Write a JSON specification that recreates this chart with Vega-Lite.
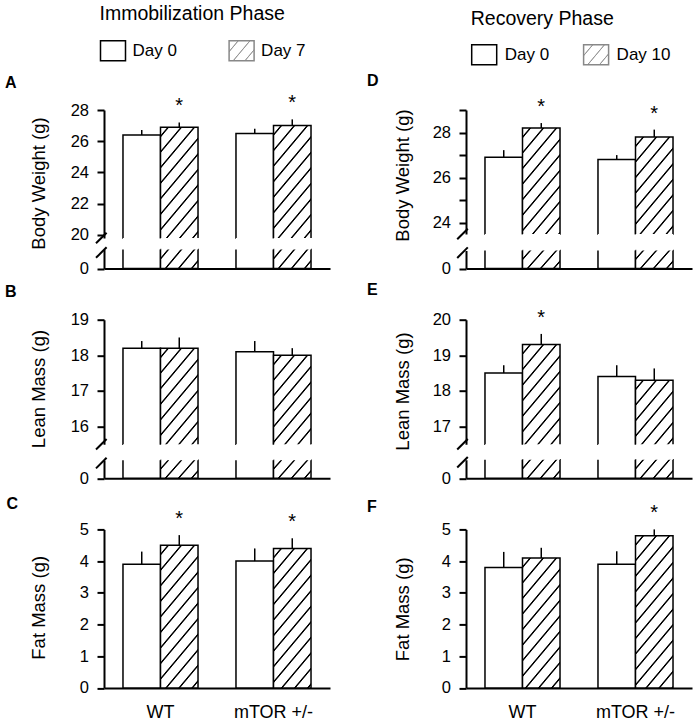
{
  "$schema": "https://vega.github.io/schema/vega-lite/v6.json",
  "padding": {"left": 5, "top": 4, "right": 5, "bottom": 6},
  "background": "white",
  "params": [
    {"name": "hatch", "value": [
      {"offset": 0, "color": "#fff"},
      {"offset": 0.0245, "color": "#fff"}, {"offset": 0.0282, "color": "#000"}, {"offset": 0.0318, "color": "#000"}, {"offset": 0.0355, "color": "#fff"},
      {"offset": 0.0745, "color": "#fff"}, {"offset": 0.0782, "color": "#000"}, {"offset": 0.0818, "color": "#000"}, {"offset": 0.0855, "color": "#fff"},
      {"offset": 0.1245, "color": "#fff"}, {"offset": 0.1282, "color": "#000"}, {"offset": 0.1318, "color": "#000"}, {"offset": 0.1355, "color": "#fff"},
      {"offset": 0.1745, "color": "#fff"}, {"offset": 0.1782, "color": "#000"}, {"offset": 0.1818, "color": "#000"}, {"offset": 0.1855, "color": "#fff"},
      {"offset": 0.2245, "color": "#fff"}, {"offset": 0.2282, "color": "#000"}, {"offset": 0.2318, "color": "#000"}, {"offset": 0.2355, "color": "#fff"},
      {"offset": 0.2745, "color": "#fff"}, {"offset": 0.2782, "color": "#000"}, {"offset": 0.2818, "color": "#000"}, {"offset": 0.2855, "color": "#fff"},
      {"offset": 0.3245, "color": "#fff"}, {"offset": 0.3282, "color": "#000"}, {"offset": 0.3318, "color": "#000"}, {"offset": 0.3355, "color": "#fff"},
      {"offset": 0.3745, "color": "#fff"}, {"offset": 0.3782, "color": "#000"}, {"offset": 0.3818, "color": "#000"}, {"offset": 0.3855, "color": "#fff"},
      {"offset": 0.4245, "color": "#fff"}, {"offset": 0.4282, "color": "#000"}, {"offset": 0.4318, "color": "#000"}, {"offset": 0.4355, "color": "#fff"},
      {"offset": 0.4745, "color": "#fff"}, {"offset": 0.4782, "color": "#000"}, {"offset": 0.4818, "color": "#000"}, {"offset": 0.4855, "color": "#fff"},
      {"offset": 0.5245, "color": "#fff"}, {"offset": 0.5282, "color": "#000"}, {"offset": 0.5318, "color": "#000"}, {"offset": 0.5355, "color": "#fff"},
      {"offset": 0.5745, "color": "#fff"}, {"offset": 0.5782, "color": "#000"}, {"offset": 0.5818, "color": "#000"}, {"offset": 0.5855, "color": "#fff"},
      {"offset": 0.6245, "color": "#fff"}, {"offset": 0.6282, "color": "#000"}, {"offset": 0.6318, "color": "#000"}, {"offset": 0.6355, "color": "#fff"},
      {"offset": 0.6745, "color": "#fff"}, {"offset": 0.6782, "color": "#000"}, {"offset": 0.6818, "color": "#000"}, {"offset": 0.6855, "color": "#fff"},
      {"offset": 0.7245, "color": "#fff"}, {"offset": 0.7282, "color": "#000"}, {"offset": 0.7318, "color": "#000"}, {"offset": 0.7355, "color": "#fff"},
      {"offset": 1, "color": "#fff"}
    ]},
    {"name": "hatchL", "value": [
      {"offset": 0, "color": "#fff"},
      {"offset": 0.031, "color": "#fff"}, {"offset": 0.034, "color": "#999"}, {"offset": 0.036, "color": "#999"}, {"offset": 0.039, "color": "#fff"},
      {"offset": 0.076, "color": "#fff"}, {"offset": 0.079, "color": "#999"}, {"offset": 0.081, "color": "#999"}, {"offset": 0.084, "color": "#fff"},
      {"offset": 0.121, "color": "#fff"}, {"offset": 0.124, "color": "#999"}, {"offset": 0.126, "color": "#999"}, {"offset": 0.129, "color": "#fff"},
      {"offset": 1, "color": "#fff"}
    ]}
  ],
  "config": {
    "view": {"stroke": null},
    "font": "Liberation Sans",
    "axis": {
      "domainColor": "#000", "domainWidth": 2, "tickColor": "#000", "tickWidth": 2, "tickSize": 7,
      "labelColor": "#000", "labelFontSize": 16.5, "labelPadding": 8.5, "labelFont": "Liberation Sans",
      "titleColor": "#000", "titleFontSize": 18.5, "titleFontWeight": "normal", "titleFont": "Liberation Sans", "grid": false
    },
    "title": {"color": "#000", "font": "Liberation Sans"},
    "legend": {"labelColor": "#000", "labelFontSize": 17, "labelFont": "Liberation Sans", "titleColor": "#000", "titleFont": "Liberation Sans", "titleFontSize": 19.5, "titleFontWeight": "normal", "titleLimit": 400}
  },
  "datasets": {
    "bw_imm": [
      {"group": "WT", "day": "Day 0", "value": 26.4, "upper": 26.72, "sig": ""},
      {"group": "WT", "day": "Day 7", "value": 26.9, "upper": 27.2, "sig": "*"},
      {"group": "mTOR +/-", "day": "Day 0", "value": 26.5, "upper": 26.8, "sig": ""},
      {"group": "mTOR +/-", "day": "Day 7", "value": 27.0, "upper": 27.4, "sig": "*"}
    ],
    "lean_imm": [
      {"group": "WT", "day": "Day 0", "value": 18.2, "upper": 18.4, "sig": ""},
      {"group": "WT", "day": "Day 7", "value": 18.2, "upper": 18.5, "sig": ""},
      {"group": "mTOR +/-", "day": "Day 0", "value": 18.1, "upper": 18.4, "sig": ""},
      {"group": "mTOR +/-", "day": "Day 7", "value": 18.0, "upper": 18.2, "sig": ""}
    ],
    "fat_imm": [
      {"group": "WT", "day": "Day 0", "value": 3.9, "upper": 4.3, "sig": ""},
      {"group": "WT", "day": "Day 7", "value": 4.5, "upper": 4.82, "sig": "*"},
      {"group": "mTOR +/-", "day": "Day 0", "value": 4.0, "upper": 4.4, "sig": ""},
      {"group": "mTOR +/-", "day": "Day 7", "value": 4.4, "upper": 4.72, "sig": "*"}
    ],
    "bw_rec": [
      {"group": "WT", "day": "Day 0", "value": 26.9, "upper": 27.22, "sig": ""},
      {"group": "WT", "day": "Day 10", "value": 28.2, "upper": 28.42, "sig": "*"},
      {"group": "mTOR +/-", "day": "Day 0", "value": 26.8, "upper": 27.0, "sig": ""},
      {"group": "mTOR +/-", "day": "Day 10", "value": 27.8, "upper": 28.13, "sig": "*"}
    ],
    "lean_rec": [
      {"group": "WT", "day": "Day 0", "value": 18.5, "upper": 18.72, "sig": ""},
      {"group": "WT", "day": "Day 10", "value": 19.3, "upper": 19.6, "sig": "*"},
      {"group": "mTOR +/-", "day": "Day 0", "value": 18.4, "upper": 18.72, "sig": ""},
      {"group": "mTOR +/-", "day": "Day 10", "value": 18.3, "upper": 18.63, "sig": ""}
    ],
    "fat_rec": [
      {"group": "WT", "day": "Day 0", "value": 3.8, "upper": 4.29, "sig": ""},
      {"group": "WT", "day": "Day 10", "value": 4.1, "upper": 4.42, "sig": ""},
      {"group": "mTOR +/-", "day": "Day 0", "value": 3.9, "upper": 4.31, "sig": ""},
      {"group": "mTOR +/-", "day": "Day 10", "value": 4.8, "upper": 5.0, "sig": "*"}
    ]
  },
  "columns": 2,
  "spacing": {"row": 50.7, "column": 136},
  "bounds": "flush",
  "resolve": {"scale": {"xOffset": "independent", "stroke": "independent", "fill": "independent"}, "legend": {"stroke": "independent", "fill": "independent"}},
  "concat": [
    {
      "width": 226, "height": 158.5,
      "data": {"name": "bw_imm"},
      "title": {"text": "A", "anchor": "start", "frame": "group", "fontSize": 16, "fontWeight": "bold", "baseline": "alphabetic", "offset": 0, "dx": -99, "dy": 99.4},
      "encoding": {
        "x": {"field": "group", "type": "nominal", "scale": {"domain": ["WT", "mTOR +/-"], "paddingInner": 0.336, "paddingOuter": 0.168}, "axis": {"labels": false, "ticks": false, "title": null, "domain": true}},
        "xOffset": {"field": "day", "type": "nominal", "scale": {"domain": ["Day 0", "Day 7"], "paddingInner": 0, "paddingOuter": 0}},
        "y": {"field": "value", "type": "quantitative", "scale": {"domain": [0, 1, 19.8, 28], "range": [158.5, 139.5, 128, 0], "nice": false, "zero": false}, "axis": {"values": [0, 20, 22, 24, 26, 28], "title": "Body Weight (g)", "titleX": -66, "titleY": 73, "titleBaseline": "middle", "domainDash": [19, 11.5, 300]}}
      },
      "layer": [
        {
          "mark": {"type": "bar", "strokeWidth": 1.5, "stroke": "#000"},
          "encoding": {
            "y2": {"datum": 19.8},
            "fill": {"value": {"expr": "datum.day == 'Day 0' ? '#fff' : {gradient: 'linear', x1: 0, y1: 0, x2: 153.2 / (22.005 + 0.011024 * pow((datum.value - 19.8) * 15.61, 2)), y2: 3.4293 * (datum.value - 19.8) * 15.61 / (22.005 + 0.011024 * pow((datum.value - 19.8) * 15.61, 2)), stops: hatch}"}},
            "strokeDash": {"value": {"expr": "[37.5 + (datum.value - 19.8) * 15.61, 37.5, (datum.value - 19.8) * 15.61 + 5]"}}
          }
        },
        {
          "mark": {"type": "bar", "strokeWidth": 1.5, "stroke": "#000"},
          "encoding": {
            "y": {"datum": 1, "type": "quantitative", "title": "Body Weight (g)"}, "y2": {"datum": 0},
            "fill": {"value": {"expr": "datum.day == 'Day 0' ? '#fff' : {gradient: 'linear', x1: 0, y1: 0, x2: 5.896, y2: 2.507, stops: hatch}"}},
            "strokeDash": {"value": [0, 37.5, 90]}
          }
        },
        {"mark": {"type": "rule", "color": "#000", "strokeWidth": 1.5}, "encoding": {"y2": {"field": "upper"}}},
        {"mark": {"type": "text", "dy": -10, "fontSize": 20, "baseline": "alphabetic", "color": "#000"}, "encoding": {"y": {"field": "upper", "type": "quantitative", "title": "Body Weight (g)"}, "text": {"field": "sig"}}},
        {
          "data": {"values": [{"day": "Day 0"}, {"day": "Day 7"}]},
          "mark": {"type": "point", "shape": "M-1,-0.8H1V0.8H-1Z", "filled": true},
          "encoding": {
            "fill": {"field": "day", "type": "nominal", "scale": {"domain": ["Day 0", "Day 7"], "range": ["#fff", {"expr": "{gradient: 'linear', x1: 0, y1: 0, x2: 7.197, y2: 4.833, stops: hatchL}"}]},
              "legend": {"orient": "none", "legendX": -4.5, "legendY": -105.2, "direction": "horizontal", "title": "Immobilization Phase", "titleAnchor": "start", "titleOrient": "top", "titleBaseline": "top", "titlePadding": 12.7, "symbolType": "M-1,-0.8H1V0.8H-1Z", "symbolSize": 625, "symbolOpacity": 1, "symbolStrokeWidth": 1.5, "labelOffset": 6, "columnPadding": 48.6, "padding": 0}},
            "stroke": {"field": "day", "type": "nominal", "scale": {"domain": ["Day 0", "Day 7"], "range": ["#000", "#888"]},
              "legend": {"orient": "none", "legendX": -4.5, "legendY": -105.2, "direction": "horizontal", "title": "Immobilization Phase", "titleAnchor": "start", "titleOrient": "top", "titleBaseline": "top", "titlePadding": 12.7, "symbolType": "M-1,-0.8H1V0.8H-1Z", "symbolSize": 625, "symbolOpacity": 1, "symbolStrokeWidth": 1.5, "labelOffset": 6, "columnPadding": 48.6, "padding": 0}}
          }
        },
        {
          "data": {"values": [{"pos": 19.8}, {"pos": 0.84}]},
          "mark": {"type": "point", "shape": "M-1.51,1L0.49,-1", "size": 112, "filled": false, "stroke": "#000", "strokeWidth": 2, "opacity": 1},
          "encoding": {"x": {"value": 0}, "xOffset": {"value": 0}, "y": {"field": "pos", "type": "quantitative", "title": "Body Weight (g)"}}
        }
      ]
    },
    {
      "width": 226, "height": 158.5,
      "data": {"name": "bw_rec"},
      "title": {"text": "D", "anchor": "start", "frame": "group", "fontSize": 16, "fontWeight": "bold", "baseline": "alphabetic", "offset": 0, "dx": -99, "dy": 91.7},
      "encoding": {
        "x": {"field": "group", "type": "nominal", "scale": {"domain": ["WT", "mTOR +/-"], "paddingInner": 0.336, "paddingOuter": 0.168}, "axis": {"labels": false, "ticks": false, "title": null, "domain": true}},
        "xOffset": {"field": "day", "type": "nominal", "scale": {"domain": ["Day 0", "Day 10"], "paddingInner": 0, "paddingOuter": 0}},
        "y": {"field": "value", "type": "quantitative", "scale": {"domain": [0, 1, 23.5, 29], "range": [158.5, 140.5, 124, 0], "nice": false, "zero": false}, "axis": {"values": [0, 24, 25, 26, 27, 28, 29], "labelExpr": "datum.value % 2 == 0 ? datum.label : ''", "title": "Body Weight (g)", "titleX": -64, "titleY": 65, "titleBaseline": "middle", "domainDash": [18, 16.5, 300]}}
      },
      "layer": [
        {
          "mark": {"type": "bar", "strokeWidth": 1.5, "stroke": "#000"},
          "encoding": {
            "y2": {"datum": 23.5},
            "fill": {"value": {"expr": "datum.day == 'Day 0' ? '#fff' : {gradient: 'linear', x1: 0, y1: 0, x2: 153.2 / (22.005 + 0.011024 * pow((datum.value - 23.5) * 22.55, 2)), y2: 3.4293 * (datum.value - 23.5) * 22.55 / (22.005 + 0.011024 * pow((datum.value - 23.5) * 22.55, 2)), stops: hatch}"}},
            "strokeDash": {"value": {"expr": "[37.5 + (datum.value - 23.5) * 22.55, 37.5, (datum.value - 23.5) * 22.55 + 5]"}}
          }
        },
        {
          "mark": {"type": "bar", "strokeWidth": 1.5, "stroke": "#000"},
          "encoding": {
            "y": {"datum": 1, "type": "quantitative", "title": "Body Weight (g)"}, "y2": {"datum": 0},
            "fill": {"value": {"expr": "datum.day == 'Day 0' ? '#fff' : {gradient: 'linear', x1: 0, y1: 0, x2: 5.896, y2: 2.507, stops: hatch}"}},
            "strokeDash": {"value": [0, 37.5, 90]}
          }
        },
        {"mark": {"type": "rule", "color": "#000", "strokeWidth": 1.5}, "encoding": {"y2": {"field": "upper"}}},
        {"mark": {"type": "text", "dy": -10, "fontSize": 20, "baseline": "alphabetic", "color": "#000"}, "encoding": {"y": {"field": "upper", "type": "quantitative", "title": "Body Weight (g)"}, "text": {"field": "sig"}}},
        {
          "data": {"values": [{"day": "Day 0"}, {"day": "Day 10"}]},
          "mark": {"type": "point", "shape": "M-1,-0.8H1V0.8H-1Z", "filled": true},
          "encoding": {
            "fill": {"field": "day", "type": "nominal", "scale": {"domain": ["Day 0", "Day 10"], "range": ["#fff", {"expr": "{gradient: 'linear', x1: 0, y1: 0, x2: 7.197, y2: 4.833, stops: hatchL}"}]},
              "legend": {"orient": "none", "legendX": 4.7, "legendY": -99.9, "direction": "horizontal", "title": "Recovery Phase", "titleAnchor": "start", "titleOrient": "top", "titleBaseline": "top", "titlePadding": 11.4, "symbolType": "M-1,-0.8H1V0.8H-1Z", "symbolSize": 625, "symbolOpacity": 1, "symbolStrokeWidth": 1.5, "labelOffset": 7, "columnPadding": 30.9, "padding": 0}},
            "stroke": {"field": "day", "type": "nominal", "scale": {"domain": ["Day 0", "Day 10"], "range": ["#000", "#888"]},
              "legend": {"orient": "none", "legendX": 4.7, "legendY": -99.9, "direction": "horizontal", "title": "Recovery Phase", "titleAnchor": "start", "titleOrient": "top", "titleBaseline": "top", "titlePadding": 11.4, "symbolType": "M-1,-0.8H1V0.8H-1Z", "symbolSize": 625, "symbolOpacity": 1, "symbolStrokeWidth": 1.5, "labelOffset": 7, "columnPadding": 30.9, "padding": 0}}
          }
        },
        {
          "data": {"values": [{"pos": 23.45}, {"pos": 0.88}]},
          "mark": {"type": "point", "shape": "M-1.66,1L0.34,-1", "size": 112, "filled": false, "stroke": "#000", "strokeWidth": 2, "opacity": 1},
          "encoding": {"x": {"value": 0}, "xOffset": {"value": 0}, "y": {"field": "pos", "type": "quantitative", "title": "Body Weight (g)"}}
        }
      ]
    },
    {
      "width": 226, "height": 158.5,
      "data": {"name": "lean_imm"},
      "title": {"text": "B", "anchor": "start", "frame": "group", "fontSize": 16, "fontWeight": "bold", "baseline": "alphabetic", "offset": 0, "dx": -99, "dy": 1.7},
      "encoding": {
        "x": {"field": "group", "type": "nominal", "scale": {"domain": ["WT", "mTOR +/-"], "paddingInner": 0.336, "paddingOuter": 0.168}, "axis": {"labels": false, "ticks": false, "title": null, "domain": true}},
        "xOffset": {"field": "day", "type": "nominal", "scale": {"domain": ["Day 0", "Day 7"], "paddingInner": 0, "paddingOuter": 0}},
        "y": {"field": "value", "type": "quantitative", "scale": {"domain": [0, 1, 15.5, 19], "range": [158.5, 140.5, 124.5, 0], "nice": false, "zero": false}, "axis": {"values": [0, 16, 17, 18, 19], "title": "Lean Mass (g)", "titleX": -66, "titleY": 68.8, "titleBaseline": "middle", "domainDash": [18, 16, 300]}}
      },
      "layer": [
        {
          "mark": {"type": "bar", "strokeWidth": 1.5, "stroke": "#000"},
          "encoding": {
            "y2": {"datum": 15.5},
            "fill": {"value": {"expr": "datum.day == 'Day 0' ? '#fff' : {gradient: 'linear', x1: 0, y1: 0, x2: 153.2 / (22.005 + 0.011024 * pow((datum.value - 15.5) * 35.57, 2)), y2: 3.4293 * (datum.value - 15.5) * 35.57 / (22.005 + 0.011024 * pow((datum.value - 15.5) * 35.57, 2)), stops: hatch}"}},
            "strokeDash": {"value": {"expr": "[37.5 + (datum.value - 15.5) * 35.57, 37.5, (datum.value - 15.5) * 35.57 + 5]"}}
          }
        },
        {
          "mark": {"type": "bar", "strokeWidth": 1.5, "stroke": "#000"},
          "encoding": {
            "y": {"datum": 1, "type": "quantitative", "title": "Lean Mass (g)"}, "y2": {"datum": 0},
            "fill": {"value": {"expr": "datum.day == 'Day 0' ? '#fff' : {gradient: 'linear', x1: 0, y1: 0, x2: 5.896, y2: 2.507, stops: hatch}"}},
            "strokeDash": {"value": [0, 37.5, 90]}
          }
        },
        {"mark": {"type": "rule", "color": "#000", "strokeWidth": 1.5}, "encoding": {"y2": {"field": "upper"}}},
        {
          "data": {"values": [{"pos": 15.47}, {"pos": 0.84}]},
          "mark": {"type": "point", "shape": "M-1.51,1L0.49,-1", "size": 112, "filled": false, "stroke": "#000", "strokeWidth": 2, "opacity": 1},
          "encoding": {"x": {"value": 0}, "xOffset": {"value": 0}, "y": {"field": "pos", "type": "quantitative", "title": "Lean Mass (g)"}}
        }
      ]
    },
    {
      "width": 226, "height": 158.5,
      "data": {"name": "lean_rec"},
      "title": {"text": "E", "anchor": "start", "frame": "group", "fontSize": 16, "fontWeight": "bold", "baseline": "alphabetic", "offset": 0, "dx": -99, "dy": 3.4},
      "encoding": {
        "x": {"field": "group", "type": "nominal", "scale": {"domain": ["WT", "mTOR +/-"], "paddingInner": 0.336, "paddingOuter": 0.168}, "axis": {"labels": false, "ticks": false, "title": null, "domain": true}},
        "xOffset": {"field": "day", "type": "nominal", "scale": {"domain": ["Day 0", "Day 10"], "paddingInner": 0, "paddingOuter": 0}},
        "y": {"field": "value", "type": "quantitative", "scale": {"domain": [0, 1, 16.5, 20], "range": [158.5, 140, 124.5, 0], "nice": false, "zero": false}, "axis": {"values": [0, 17, 18, 19, 20], "title": "Lean Mass (g)", "titleX": -64, "titleY": 71.3, "titleBaseline": "middle", "domainDash": [18.5, 15.5, 300]}}
      },
      "layer": [
        {
          "mark": {"type": "bar", "strokeWidth": 1.5, "stroke": "#000"},
          "encoding": {
            "y2": {"datum": 16.5},
            "fill": {"value": {"expr": "datum.day == 'Day 0' ? '#fff' : {gradient: 'linear', x1: 0, y1: 0, x2: 153.2 / (22.005 + 0.011024 * pow((datum.value - 16.5) * 35.57, 2)), y2: 3.4293 * (datum.value - 16.5) * 35.57 / (22.005 + 0.011024 * pow((datum.value - 16.5) * 35.57, 2)), stops: hatch}"}},
            "strokeDash": {"value": {"expr": "[37.5 + (datum.value - 16.5) * 35.57, 37.5, (datum.value - 16.5) * 35.57 + 5]"}}
          }
        },
        {
          "mark": {"type": "bar", "strokeWidth": 1.5, "stroke": "#000"},
          "encoding": {
            "y": {"datum": 1, "type": "quantitative", "title": "Lean Mass (g)"}, "y2": {"datum": 0},
            "fill": {"value": {"expr": "datum.day == 'Day 0' ? '#fff' : {gradient: 'linear', x1: 0, y1: 0, x2: 5.896, y2: 2.507, stops: hatch}"}},
            "strokeDash": {"value": [0, 37.5, 90]}
          }
        },
        {"mark": {"type": "rule", "color": "#000", "strokeWidth": 1.5}, "encoding": {"y2": {"field": "upper"}}},
        {"mark": {"type": "text", "dy": -10, "fontSize": 20, "baseline": "alphabetic", "color": "#000"}, "encoding": {"y": {"field": "upper", "type": "quantitative", "title": "Lean Mass (g)"}, "text": {"field": "sig"}}},
        {
          "data": {"values": [{"pos": 16.47}, {"pos": 0.86}]},
          "mark": {"type": "point", "shape": "M-1.66,1L0.34,-1", "size": 112, "filled": false, "stroke": "#000", "strokeWidth": 2, "opacity": 1},
          "encoding": {"x": {"value": 0}, "xOffset": {"value": 0}, "y": {"field": "pos", "type": "quantitative", "title": "Lean Mass (g)"}}
        }
      ]
    },
    {
      "width": 226, "height": 158.5,
      "data": {"name": "fat_imm"},
      "title": {"text": "C", "anchor": "start", "frame": "group", "fontSize": 16, "fontWeight": "bold", "baseline": "alphabetic", "offset": 0, "dx": -97.5, "dy": 15.7},
      "encoding": {
        "x": {"field": "group", "type": "nominal", "scale": {"domain": ["WT", "mTOR +/-"], "paddingInner": 0.336, "paddingOuter": 0.168}, "axis": {"title": null, "labelAngle": 0, "ticks": false, "tickSize": 0, "labelFontSize": 18, "labelPadding": 16, "domain": true}},
        "xOffset": {"field": "day", "type": "nominal", "scale": {"domain": ["Day 0", "Day 7"], "paddingInner": 0, "paddingOuter": 0}},
        "y": {"field": "value", "type": "quantitative", "scale": {"domain": [0, 5], "nice": false}, "axis": {"values": [0, 1, 2, 3, 4, 5], "title": "Fat Mass (g)", "titleX": -66, "titleY": 77.9, "titleBaseline": "middle"}}
      },
      "layer": [
        {
          "mark": {"type": "bar", "strokeWidth": 1.5, "stroke": "#000"},
          "encoding": {
            "fill": {"value": {"expr": "datum.day == 'Day 0' ? '#fff' : {gradient: 'linear', x1: 0, y1: 0, x2: 153.2 / (22.005 + 0.011024 * pow(datum.value * 31.7, 2)), y2: 3.4293 * datum.value * 31.7 / (22.005 + 0.011024 * pow(datum.value * 31.7, 2)), stops: hatch}"}}
          }
        },
        {"mark": {"type": "rule", "color": "#000", "strokeWidth": 1.5}, "encoding": {"y2": {"field": "upper"}}},
        {"mark": {"type": "text", "dy": -10, "fontSize": 20, "baseline": "alphabetic", "color": "#000"}, "encoding": {"y": {"field": "upper", "type": "quantitative", "title": "Fat Mass (g)"}, "text": {"field": "sig"}}}
      ]
    },
    {
      "width": 226, "height": 158.5,
      "data": {"name": "fat_rec"},
      "title": {"text": "F", "anchor": "start", "frame": "group", "fontSize": 16, "fontWeight": "bold", "baseline": "alphabetic", "offset": 0, "dx": -99, "dy": 24.8},
      "encoding": {
        "x": {"field": "group", "type": "nominal", "scale": {"domain": ["WT", "mTOR +/-"], "paddingInner": 0.336, "paddingOuter": 0.168}, "axis": {"title": null, "labelAngle": 0, "ticks": false, "tickSize": 0, "labelFontSize": 18, "labelPadding": 16, "domain": true}},
        "xOffset": {"field": "day", "type": "nominal", "scale": {"domain": ["Day 0", "Day 10"], "paddingInner": 0, "paddingOuter": 0}},
        "y": {"field": "value", "type": "quantitative", "scale": {"domain": [0, 5], "nice": false}, "axis": {"values": [0, 1, 2, 3, 4, 5], "title": "Fat Mass (g)", "titleX": -64, "titleY": 79.4, "titleBaseline": "middle"}}
      },
      "layer": [
        {
          "mark": {"type": "bar", "strokeWidth": 1.5, "stroke": "#000"},
          "encoding": {
            "fill": {"value": {"expr": "datum.day == 'Day 0' ? '#fff' : {gradient: 'linear', x1: 0, y1: 0, x2: 153.2 / (22.005 + 0.011024 * pow(datum.value * 31.7, 2)), y2: 3.4293 * datum.value * 31.7 / (22.005 + 0.011024 * pow(datum.value * 31.7, 2)), stops: hatch}"}}
          }
        },
        {"mark": {"type": "rule", "color": "#000", "strokeWidth": 1.5}, "encoding": {"y2": {"field": "upper"}}},
        {"mark": {"type": "text", "dy": -10, "fontSize": 20, "baseline": "alphabetic", "color": "#000"}, "encoding": {"y": {"field": "upper", "type": "quantitative", "title": "Fat Mass (g)"}, "text": {"field": "sig"}}}
      ]
    }
  ]
}
